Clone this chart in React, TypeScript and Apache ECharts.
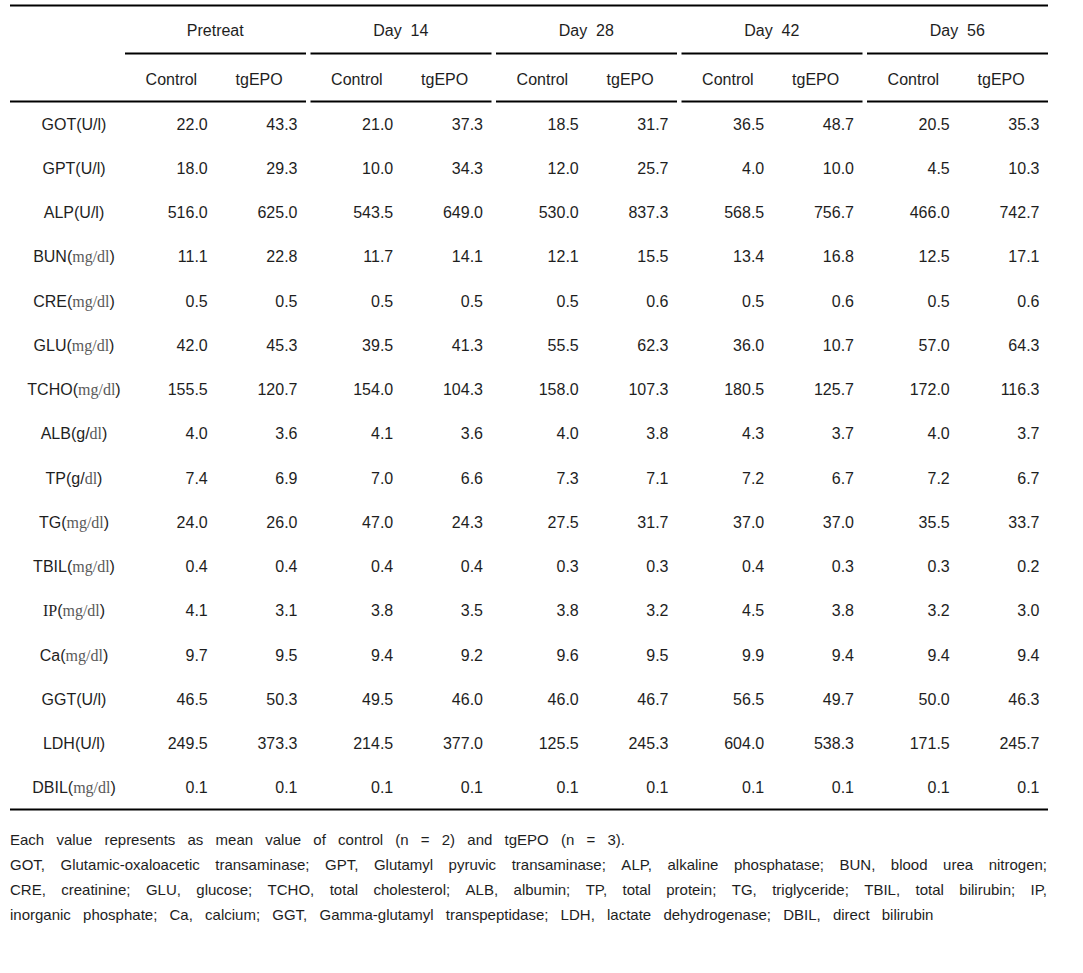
import React, { useEffect, useRef } from "react";
import * as echarts from "echarts";

// ---------- data ----------
const groups = ["Pretreat", "Day  14", "Day  28", "Day  42", "Day  56"];
const subHeaders = ["Control", "tgEPO"];
const rowNames = [
  "GOT(U/l)", "GPT(U/l)", "ALP(U/l)", "BUN(mg/dl)", "CRE(mg/dl)", "GLU(mg/dl)",
  "TCHO(mg/dl)", "ALB(g/dl)", "TP(g/dl)", "TG(mg/dl)", "TBIL(mg/dl)", "IP(mg/dl)",
  "Ca(mg/dl)", "GGT(U/l)", "LDH(U/l)", "DBIL(mg/dl)",
];

const pretreatControl = [22.0, 18.0, 516.0, 11.1, 0.5, 42.0, 155.5, 4.0, 7.4, 24.0, 0.4, 4.1, 9.7, 46.5, 249.5, 0.1];
const pretreatTgEPO = [43.3, 29.3, 625.0, 22.8, 0.5, 45.3, 120.7, 3.6, 6.9, 26.0, 0.4, 3.1, 9.5, 50.3, 373.3, 0.1];
const day14Control = [21.0, 10.0, 543.5, 11.7, 0.5, 39.5, 154.0, 4.1, 7.0, 47.0, 0.4, 3.8, 9.4, 49.5, 214.5, 0.1];
const day14TgEPO = [37.3, 34.3, 649.0, 14.1, 0.5, 41.3, 104.3, 3.6, 6.6, 24.3, 0.4, 3.5, 9.2, 46.0, 377.0, 0.1];
const day28Control = [18.5, 12.0, 530.0, 12.1, 0.5, 55.5, 158.0, 4.0, 7.3, 27.5, 0.3, 3.8, 9.6, 46.0, 125.5, 0.1];
const day28TgEPO = [31.7, 25.7, 837.3, 15.5, 0.6, 62.3, 107.3, 3.8, 7.1, 31.7, 0.3, 3.2, 9.5, 46.7, 245.3, 0.1];
const day42Control = [36.5, 4.0, 568.5, 13.4, 0.5, 36.0, 180.5, 4.3, 7.2, 37.0, 0.4, 4.5, 9.9, 56.5, 604.0, 0.1];
const day42TgEPO = [48.7, 10.0, 756.7, 16.8, 0.6, 10.7, 125.7, 3.7, 6.7, 37.0, 0.3, 3.8, 9.4, 49.7, 538.3, 0.1];
const day56Control = [20.5, 4.5, 466.0, 12.5, 0.5, 57.0, 172.0, 4.0, 7.2, 35.5, 0.3, 3.2, 9.4, 50.0, 171.5, 0.1];
const day56TgEPO = [35.3, 10.3, 742.7, 17.1, 0.6, 64.3, 116.3, 3.7, 6.7, 33.7, 0.2, 3.0, 9.4, 46.3, 245.7, 0.1];

const noteLines = [
  "Each value represents as mean value of control (n = 2) and tgEPO (n = 3).",
  "GOT, Glutamic-oxaloacetic transaminase; GPT, Glutamyl pyruvic transaminase; ALP, alkaline phosphatase; BUN, blood urea nitrogen;",
  "CRE, creatinine; GLU, glucose; TCHO, total cholesterol; ALB, albumin; TP, total protein; TG, triglyceride; TBIL, total bilirubin; IP,",
  "inorganic phosphate; Ca, calcium; GGT, Gamma-glutamyl transpeptidase; LDH, lactate dehydrogenase; DBIL, direct bilirubin",
];
const noteJustified = [false, true, true, false];

// ---------- layout ----------
const W = 1083;
const H = 973;
const SANS = '"Liberation Sans", Arial, sans-serif';
const SERIF = '"Liberation Serif", "Times New Roman", serif';
const TEXT = "#1e1e1e";
const UNIT = "#5a5a5a";
const tableLeft = 10;
const tableRight = 1048;
const gridLeft = 125;
const gridTop = 102;
const gridHeight = 708;
const colW = 92.75;
const groupGap = 4.5;
const ruleW = 2;

function fmtRow(name: string): string {
  const m = name.match(/^(\w+)\((.*)\)$/);
  if (!m) return name;
  const code = m[1];
  const unit = m[2];
  const codePart = code === "IP" ? "{s|IP}" : code;
  let unitPart = unit;
  if (unit === "mg/dl") unitPart = "{u|mg/dl}";
  else if (unit === "g/dl") unitPart = "g/{u|dl}";
  return codePart + "(" + unitPart + ")";
}

export default function App() {
  const ref = useRef<HTMLDivElement>(null);

  useEffect(() => {
    if (!ref.current) return;
    const chart = echarts.init(ref.current, undefined, { renderer: "svg" });

    const columns = [
      pretreatControl, pretreatTgEPO, day14Control, day14TgEPO, day28Control,
      day28TgEPO, day42Control, day42TgEPO, day56Control, day56TgEPO,
    ];
    const colHeaders: string[] = [];
    groups.forEach(() => subHeaders.forEach((s) => colHeaders.push(s)));

    const cells: number[][] = [];
    columns.forEach((col, c) => col.forEach((v, r) => cells.push([c, r, v])));

    // rules
    const groupW = colW * 2;
    const lines: any[] = [];
    const hline = (x1: number, x2: number, y: number) =>
      lines.push({
        type: "line",
        silent: true,
        shape: { x1, y1: y, x2, y2: y },
        style: { stroke: "#000", lineWidth: ruleW },
      });
    hline(tableLeft, tableRight, 5.5);
    groups.forEach((_, g) => {
      const s = gridLeft + g * groupW;
      const e = g === groups.length - 1 ? tableRight : gridLeft + (g + 1) * groupW - groupGap;
      hline(s, e, 53.5);
      hline(g === 0 ? tableLeft : s, e, 101.5);
    });
    hline(tableLeft, tableRight, 809.5);

    // footnotes
    const notes: any[] = [];
    const canvas = document.createElement("canvas");
    const ctx = canvas.getContext("2d")!;
    const noteFontSize = 15;
    ctx.font = `${noteFontSize}px ${SANS}`;
    const noteGap = 12.2;
    noteLines.forEach((line, i) => {
      const words = line.split(" ");
      const widths = words.map((w) => ctx.measureText(w).width);
      const total = widths.reduce((a, b) => a + b, 0);
      const gap = noteJustified[i]
        ? (tableRight - 1 - tableLeft - total) / (words.length - 1)
        : noteGap;
      let x = tableLeft;
      const y = 839 + i * 25.3;
      words.forEach((w, j) => {
        notes.push({
          type: "text",
          silent: true,
          x,
          y,
          style: {
            text: w,
            fontSize: noteFontSize,
            fontFamily: SANS,
            fill: TEXT,
            align: "left",
            verticalAlign: "middle",
            textAlign: "left",
            textVerticalAlign: "middle",
          },
        });
        x += widths[j] + gap;
      });
    });

    const axisCommon = {
      axisLine: { show: false },
      axisTick: { show: false },
      splitLine: { show: false },
    };

    chart.setOption({
      animation: false,
      backgroundColor: "#fff",
      grid: {
        left: gridLeft,
        top: gridTop,
        width: colW * 10,
        height: gridHeight,
        containLabel: false,
        outerBoundsMode: "none",
      },
      xAxis: [
        {
          type: "category",
          position: "top",
          data: colHeaders,
          ...axisCommon,
          axisLabel: {
            interval: 0,
            margin: 23,
            verticalAlign: "middle",
            fontSize: 16,
            fontFamily: SANS,
            color: TEXT,
            formatter: (v: string) => (v === "tgEPO" ? "{t|tgEPO}" : "{c|" + v + "}"),
            rich: {
              t: { fontSize: 16, fontFamily: SANS, color: TEXT, padding: [0, 10, 0, 0] },
              c: { fontSize: 16, fontFamily: SANS, color: TEXT },
            },
          },
        },
        {
          type: "category",
          position: "top",
          offset: 49,
          data: groups,
          ...axisCommon,
          axisLabel: {
            interval: 0,
            margin: 23,
            verticalAlign: "middle",
            fontSize: 16,
            fontFamily: SANS,
            color: TEXT,
            formatter: (v: string) => "{g|" + v + "}",
            rich: {
              g: { fontSize: 16, fontFamily: SANS, color: TEXT, padding: [0, 5, 0, 0] },
            },
          },
        },
      ],
      yAxis: {
        type: "category",
        inverse: true,
        data: rowNames,
        ...axisCommon,
        axisLabel: {
          interval: 0,
          align: "center",
          margin: 51,
          fontSize: 16,
          fontFamily: SANS,
          color: TEXT,
          formatter: (v: string) => fmtRow(v),
          rich: {
            u: { fontSize: 16, fontFamily: SERIF, color: UNIT },
            s: { fontSize: 16, fontFamily: SERIF, color: TEXT },
          },
        },
      },
      series: [
        {
          type: "custom",
          xAxisIndex: 0,
          yAxisIndex: 0,
          data: cells,
          encode: { x: 0, y: 1 },
          renderItem: (_params: any, api: any) => {
            const c = api.value(0);
            const r = api.value(1);
            const v = api.value(2);
            const pt = api.coord([c, r]);
            const w = api.size([1, 0])[0];
            const pad = c % 2 === 0 ? 10 : 13;
            return {
              type: "text",
              x: pt[0] + w / 2 - pad,
              y: pt[1],
              style: {
                text: Number(v).toFixed(1),
                fontSize: 16,
                fontFamily: SANS,
                fill: TEXT,
                align: "right",
                verticalAlign: "middle",
                textAlign: "right",
                textVerticalAlign: "middle",
              },
            };
          },
        },
      ],
      graphic: [...lines, ...notes],
    });

    return () => chart.dispose();
  }, []);

  return (
    <div
      ref={ref}
      style={{ position: "fixed", left: 0, top: 0, width: W, height: H, background: "#fff" }}
    />
  );
}
